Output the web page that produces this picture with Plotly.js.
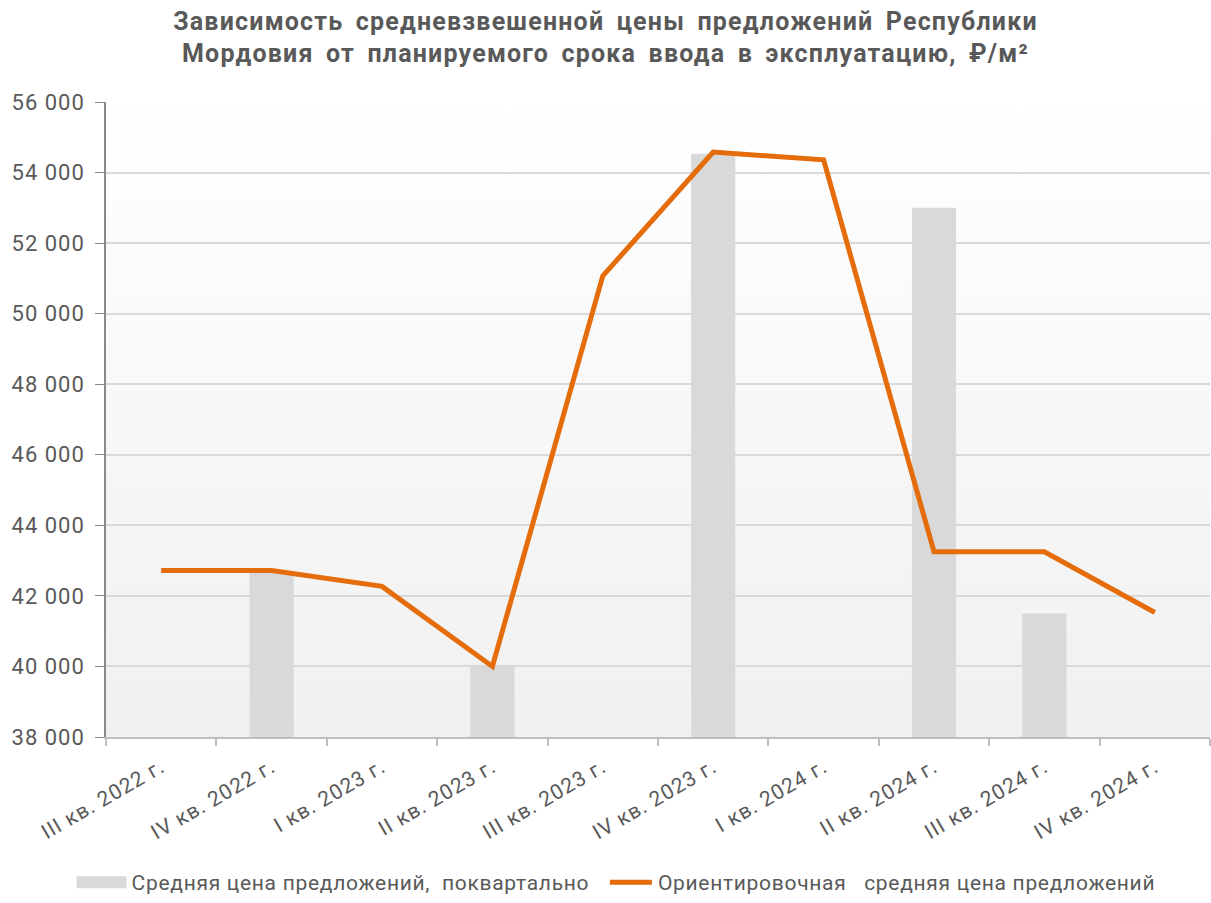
<!DOCTYPE html>
<html>
<head>
<meta charset="utf-8">
<script src="https://cdn.plot.ly/plotly-3.0.1.min.js"></script>
<style>
html,body{margin:0;padding:0;background:#fff;}
#chart{width:1211px;height:903px;}
.gtitle{letter-spacing:1.2px;word-spacing:5px;}
.xtick text{letter-spacing:1px;}
.ytick text{letter-spacing:1px;}
.legendtext{letter-spacing:0.7px;}
</style>
</head>
<body>
<div id="chart"></div>
<script>
const categories = ["III кв. 2022 г.","IV кв. 2022 г.","I кв. 2023 г.","II кв. 2023 г.","III кв. 2023 г.","IV кв. 2023 г.","I кв. 2024 г.","II кв. 2024 г.","III кв. 2024 г.","IV кв. 2024 г."];
const barValues = [null, 42680, null, 40000, null, 54530, null, 53000, 41500, null];
const lineValues = [42720, 42720, 42270, 40000, 51070, 54580, 54360, 43250, 43250, 41530];
const barName = "Средняя цена предложений,  поквартально\u00a0\u00a0\u00a0\u00a0";
const lineName = "Ориентировочная   средняя цена предложений";
const titleText = "Зависимость средневзвешенной цены предложений Республики<br>Мордовия от планируемого срока ввода в эксплуатацию, ₽/м²";
const yTicks = [38000,40000,42000,44000,46000,48000,50000,52000,54000,56000];

const gradSvg = '<svg xmlns="http://www.w3.org/2000/svg" width="100" height="100" preserveAspectRatio="none"><defs><linearGradient id="g" x1="0" y1="0" x2="0" y2="1"><stop offset="0" stop-color="#ffffff"/><stop offset="1" stop-color="#f0f0f0"/></linearGradient></defs><rect width="100" height="100" fill="url(#g)"/></svg>';
const gradUri = 'data:image/svg+xml;base64,' + btoa(gradSvg);

const txt = '#595959';
const data = [
  {type:'bar', x:categories, y:barValues, name:barName, width:0.4,
   marker:{color:'#d9d9d9'}, hoverinfo:'x+y'},
  {type:'scatter', mode:'lines', x:categories, y:lineValues, name:lineName,
   line:{color:'#e46c0a', width:5}}
];
const layout = {
  width:1211, height:903,
  margin:{l:106, r:1, t:102, b:166},
  paper_bgcolor:'#ffffff',
  plot_bgcolor:'rgba(0,0,0,0)',
  separators:', ',
  font:{family:'Roboto, sans-serif', color:txt, size:18},
  title:{text:titleText, x:0.5, xref:'container', xanchor:'center', y:0.967, yanchor:'middle', yref:'container',
         font:{family:'Roboto, sans-serif', size:25, color:txt, weight:'bold'}},
  images:[{source:gradUri, xref:'paper', yref:'paper', x:0, y:1, sizex:1, sizey:1,
           sizing:'stretch', layer:'below', xanchor:'left', yanchor:'top'}],
  xaxis:{type:'category', tickson:'boundaries', ticks:'outside', ticklen:7, tickcolor:'#bfbfbf', tickwidth:1.5,
         showline:true, linecolor:'#bfbfbf', linewidth:1.5, showgrid:false,
         tickangle:-30, tickfont:{size:21, color:txt}, range:[-0.5, 9.5], ticklabelstandoff:8},
  yaxis:{range:[38000,56000], tickvals:yTicks, tickformat:',d', ticks:'outside', ticklen:9, tickcolor:'#898989',
         showline:true, linecolor:'#898989', linewidth:1.5, gridcolor:'#d9d9d9', gridwidth:1.5,
         tickfont:{size:22, color:txt}, zeroline:false, ticklabelstandoff:6},
  showlegend:true,
  legend:{orientation:'h', xref:'container', x:0.517, xanchor:'center', yref:'container', y:0.0, yanchor:'bottom',
          font:{size:21, color:txt}, traceorder:'normal', bgcolor:'rgba(0,0,0,0)'},
  bargap:0.6
};

function fitSymbol(item, selector, gapLeft, gapRight) {
  const textEl = item.querySelector('.legendtext');
  if (!textEl) return;
  const tl = textEl.getBoundingClientRect().left;
  item.querySelectorAll(selector).forEach(p => {
    const bb = p.getBBox();
    if (!bb.width) return;
    const screenLeft = p.getBoundingClientRect().left;
    const existing = p.getAttribute('transform') || '';
    const offset = screenLeft - bb.x;
    const L = tl - gapLeft, R = tl - gapRight;
    const s = (R - L) / bb.width;
    const tx = L - offset - s * bb.x;
    p.setAttribute('transform', existing + ' translate(' + tx + ',0) scale(' + s + ',1)');
  });
}

Plotly.newPlot('chart', data, layout, {displayModeBar:false, responsive:false}).then(() => {
  document.querySelectorAll('#chart .legend [clip-path]').forEach(el => el.removeAttribute('clip-path'));
  const items = document.querySelectorAll('#chart .legend .traces');
  if (items.length >= 2) {
    fitSymbol(items[0], '.legendpoints path', 55, 5);
    fitSymbol(items[1], '.legendlines path', 48, 6);
  }
});
</script>
</body>
</html>
